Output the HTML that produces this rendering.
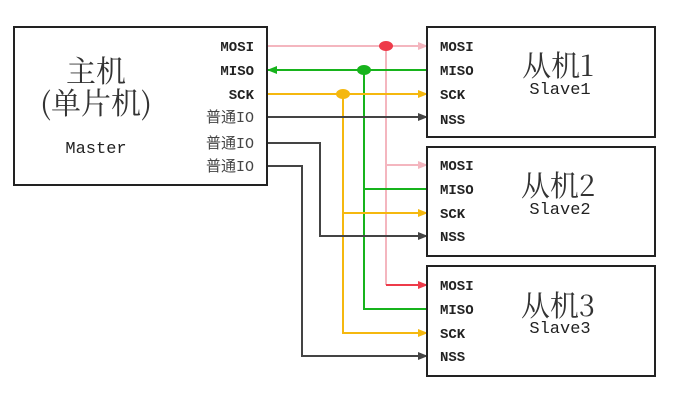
<!DOCTYPE html>
<html><head><meta charset="utf-8"><style>body{margin:0;background:#fff}svg{display:block}</style></head><body>
<svg width="678" height="401" xmlns="http://www.w3.org/2000/svg" font-family="Liberation Sans, Noto Sans CJK SC, sans-serif">
<defs>
<marker id="pk" markerWidth="10" markerHeight="8" refX="9" refY="4" orient="auto" markerUnits="userSpaceOnUse"><path d="M0,0L10,4L0,8z" fill="#f4b6bf"/></marker>
<marker id="rd" markerWidth="10" markerHeight="8" refX="9" refY="4" orient="auto" markerUnits="userSpaceOnUse"><path d="M0,0L10,4L0,8z" fill="#ee3b4a"/></marker>
<marker id="gr" markerWidth="10" markerHeight="8" refX="9" refY="4" orient="auto" markerUnits="userSpaceOnUse"><path d="M0,0L10,4L0,8z" fill="#17b31c"/></marker>
<marker id="or" markerWidth="10" markerHeight="8" refX="9" refY="4" orient="auto" markerUnits="userSpaceOnUse"><path d="M0,0L10,4L0,8z" fill="#f5b80f"/></marker>
<marker id="bk" markerWidth="10" markerHeight="8" refX="9" refY="4" orient="auto" markerUnits="userSpaceOnUse"><path d="M0,0L10,4L0,8z" fill="#444"/></marker>
</defs>
<g fill="none" stroke-width="2">
<path d="M267,46H427" stroke="#f4b6bf" marker-end="url(#pk)"/>
<path d="M386,46V285" stroke="#f4b6bf"/>
<path d="M386,165H427" stroke="#f4b6bf" marker-end="url(#pk)"/>
<path d="M386,285H427" stroke="#ee3b4a" marker-end="url(#rd)"/>
<path d="M427,70H268" stroke="#17b31c" marker-end="url(#gr)"/>
<path d="M364,70V309H427" stroke="#17b31c"/>
<path d="M364,189H427" stroke="#17b31c"/>
<path d="M267,94H427" stroke="#f5b80f" marker-end="url(#or)"/>
<path d="M343,94V333H427" stroke="#f5b80f" marker-end="url(#or)"/>
<path d="M343,213H427" stroke="#f5b80f" marker-end="url(#or)"/>
<path d="M267,117H427" stroke="#444" marker-end="url(#bk)"/>
<path d="M267,143H320V236H427" stroke="#444" marker-end="url(#bk)"/>
<path d="M267,166H302V356H427" stroke="#444" marker-end="url(#bk)"/>
</g>
<ellipse cx="386" cy="46" rx="7" ry="5" fill="#ee3b4a"/>
<ellipse cx="364" cy="70" rx="7" ry="5" fill="#17b31c"/>
<ellipse cx="343" cy="94" rx="7" ry="5" fill="#f5b80f"/>
<g fill="#fff" stroke="#222" stroke-width="2">
<rect x="14" y="27" width="253" height="158"/>
<rect x="427" y="27" width="228" height="110"/>
<rect x="427" y="147" width="228" height="109"/>
<rect x="427" y="266" width="228" height="110"/>
</g>
<g fill="#222">
<text x="96" y="82" font-size="30" text-anchor="middle" font-family="Noto Serif CJK SC, serif" fill="#333">主机</text>
<text x="96" y="114" font-size="30" text-anchor="middle" font-family="Noto Serif CJK SC, serif" fill="#333">(单片机)</text>
<text x="96" y="153" font-size="17" text-anchor="middle" font-family="Liberation Mono, monospace">Master</text>
<g font-size="14" text-anchor="end" font-family="Liberation Mono, Noto Sans CJK SC, monospace">
<text x="254" y="51" font-weight="bold">MOSI</text>
<text x="254" y="75" font-weight="bold">MISO</text>
<text x="254" y="99" font-weight="bold">SCK</text>
<text x="254" y="122" fill="#444" font-size="15">普通IO</text>
<text x="254" y="148" fill="#444" font-size="15">普通IO</text>
<text x="254" y="171" fill="#444" font-size="15">普通IO</text>
</g>
<g font-size="14" font-family="Liberation Mono, monospace" font-weight="bold">
<text x="440" y="51">MOSI</text><text x="440" y="75">MISO</text><text x="440" y="99">SCK</text><text x="440" y="124">NSS</text>
<text x="440" y="170">MOSI</text><text x="440" y="194">MISO</text><text x="440" y="218">SCK</text><text x="440" y="241">NSS</text>
<text x="440" y="290">MOSI</text><text x="440" y="314">MISO</text><text x="440" y="338">SCK</text><text x="440" y="361">NSS</text>
</g>
<g font-size="29" text-anchor="middle" font-family="Noto Serif CJK SC, serif" fill="#333">
<text x="558" y="76">从机1</text><text x="558" y="196">从机2</text><text x="558" y="316">从机3</text>
</g>
<g font-size="17" text-anchor="middle" font-family="Liberation Mono, monospace">
<text x="560" y="94">Slave1</text><text x="560" y="214">Slave2</text><text x="560" y="333">Slave3</text>
</g>
</g>
</svg>
</body></html>
